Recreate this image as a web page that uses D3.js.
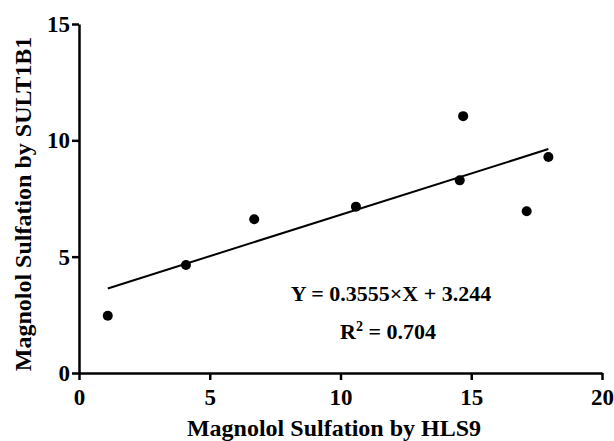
<!DOCTYPE html>
<html>
<head>
<meta charset="utf-8">
<script src="https://cdn.jsdelivr.net/npm/d3@7"></script>
<style>
  body { margin: 0; background: #fff; }
  svg text { font-family: 'Liberation Serif', 'Times New Roman', serif; font-weight: bold; fill: #000; }
</style>
</head>
<body>
<div id="chart"></div>
<script>
const hls9 = [1.1, 4.09, 6.7, 10.59, 14.56, 14.69, 17.12, 17.95]
const sult1b1 = [2.46, 4.64, 6.61, 7.15, 8.28, 11.04, 6.95, 9.28]
const xTicks = [0, 5, 10, 15, 20]
const yTicks = [0, 5, 10, 15]
const slope = 0.3555
const intercept = 3.244
const equation = 'Y = 0.3555×X + 3.244'
const rSquared = '0.704'

const width = 614
const height = 441
const margin = { top: 24, left: 79, right: 12, bottom: 68 }

const svg = d3
  .select('#chart')
  .append('svg')
  .attr('width', width)
  .attr('height', height)

const x = d3.scaleLinear().domain([0, 20]).range([margin.left, width - margin.right])
const y = d3.scaleLinear().domain([0, 15]).range([height - margin.bottom, margin.top])

const xAxis = svg
  .append('g')
  .attr('transform', `translate(0,${y(0)})`)
  .call(d3.axisBottom(x).tickValues(xTicks).tickSize(7).tickPadding(9).tickSizeOuter(0))

const yAxis = svg
  .append('g')
  .attr('transform', `translate(${x(0)},0)`)
  .call(d3.axisLeft(y).tickValues(yTicks).tickSize(7).tickPadding(2).tickSizeOuter(0))

for (const ax of [xAxis, yAxis]) {
  ax.attr('font-family', null).attr('font-size', null)
  ax.select('.domain').attr('stroke', '#000').attr('stroke-width', 2.5)
  ax.selectAll('.tick line').attr('stroke', '#000').attr('stroke-width', 2.5)
  ax.selectAll('.tick text')
    .style('font-family', "'Liberation Serif', serif")
    .style('font-weight', '700')
    .style('font-size', '23px')
    .attr('fill', '#000')
}

// regression line over data range
const xMin = d3.min(hls9)
const xMax = d3.max(hls9)
svg
  .append('line')
  .attr('x1', x(xMin))
  .attr('y1', y(slope * xMin + intercept))
  .attr('x2', x(xMax))
  .attr('y2', y(slope * xMax + intercept))
  .attr('stroke', '#000')
  .attr('stroke-width', 2)

svg
  .selectAll('.pt')
  .data(hls9.map((d, i) => [d, sult1b1[i]]))
  .enter()
  .append('circle')
  .attr('class', 'pt')
  .attr('cx', d => x(d[0]))
  .attr('cy', d => y(d[1]))
  .attr('r', 5)
  .attr('fill', '#000')

svg
  .append('text')
  .attr('x', 391)
  .attr('y', 301)
  .attr('text-anchor', 'middle')
  .attr('font-size', 22)
  .text(equation)

const r2 = svg
  .append('text')
  .attr('x', 388)
  .attr('y', 339)
  .attr('text-anchor', 'middle')
  .attr('font-size', 22)
r2.append('tspan').text('R')
r2.append('tspan').attr('font-size', 14).attr('dy', -8).text('2')
r2.append('tspan').attr('dy', 8).text(' = ' + rSquared)

svg
  .append('text')
  .attr('x', 334)
  .attr('y', 436)
  .attr('text-anchor', 'middle')
  .attr('font-size', 24)
  .text('Magnolol Sulfation by HLS9')

svg
  .append('text')
  .attr('transform', 'translate(31,204) rotate(-90)')
  .attr('text-anchor', 'middle')
  .attr('font-size', 24)
  .text('Magnolol Sulfation by SULT1B1')
</script>
</body>
</html>
